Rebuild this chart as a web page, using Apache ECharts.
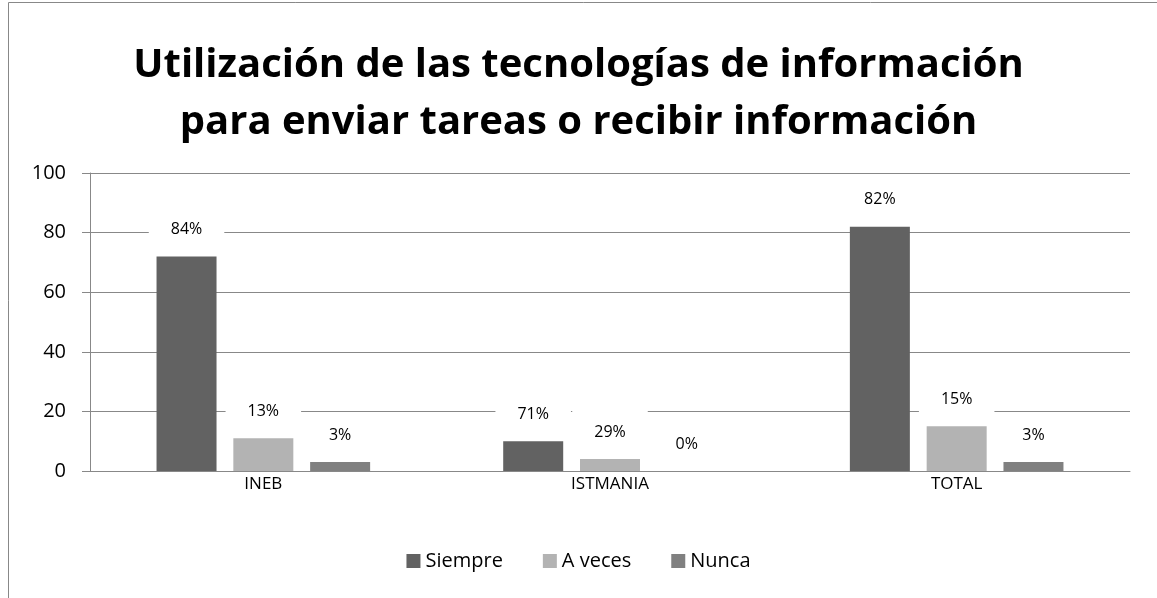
<!DOCTYPE html>
<html>
<head>
<meta charset="utf-8">
<script src="https://cdn.jsdelivr.net/npm/echarts@6/dist/echarts.min.js"></script>
<style>
  html, body { margin: 0; padding: 0; background: #fff; }
  #main { width: 1157px; height: 598px; }
</style>
</head>
<body>
<div id="main"></div>
<script>
// datos
var categorias = ['INEB', 'ISTMANIA', 'TOTAL'];
var siempre = [72, 10, 82];
var aVeces = [11, 4, 15];
var nunca = [3, 0, 3];
// etiquetas de porcentaje mostradas sobre cada barra
var siempreEtiq = ['84%', '71%', '82%'];
var aVecesEtiq = ['13%', '29%', '15%'];
var nuncaEtiq = ['3%', '0%', '3%'];
var ticksY = [0, 20, 40, 60, 80, 100];

var fuente = '"Open Sans", "Noto Sans", sans-serif';

function serie(nombre, datos, etiquetas, color) {
    return {
        name: nombre,
        type: 'bar',
        data: datos,
        barWidth: 60,
        barGap: '28%',
        itemStyle: { color: color },
        label: {
            show: true,
            position: 'top',
            distance: 6,
            formatter: function (p) { return etiquetas[p.dataIndex]; },
            color: '#000',
            fontSize: 16,
            fontFamily: fuente,
            backgroundColor: '#fff',
            padding: [13, 22]
        }
    };
}

var myChart = echarts.init(document.getElementById('main'));
myChart.setOption({
    animation: false,
    title: {
        text: 'Utilización de las tecnologías de información\npara enviar tareas o recibir información',
        left: 'center',
        top: 32,
        textStyle: {
            fontFamily: fuente,
            fontSize: 40,
            fontWeight: 'bold',
            color: '#000',
            lineHeight: 57
        }
    },
    graphic: [{
        type: 'rect',
        shape: { x: 8.5, y: 2.5, width: 1200, height: 700 },
        style: { fill: 'none', stroke: '#888', lineWidth: 1 },
        silent: true
    }],
    legend: {
        bottom: 22,
        left: 'center',
        itemWidth: 14,
        itemHeight: 14,
        itemGap: 40,
        itemTextGap: 8,
        icon: 'rect',
        textStyle: { fontFamily: fuente, fontSize: 20, color: '#000' },
        data: ['Siempre', 'A veces', 'Nunca']
    },
    grid: { left: 90, right: 27, top: 173, bottom: 127 },
    xAxis: {
        type: 'category',
        data: categorias,
        axisLine: { lineStyle: { color: '#888' } },
        axisTick: { show: false },
        axisLabel: { fontFamily: fuente, fontSize: 17, color: '#000', margin: 5 }
    },
    yAxis: {
        type: 'value',
        min: 0,
        max: 100,
        interval: 20,
        axisLine: { show: true, lineStyle: { color: '#888' } },
        axisTick: { show: true, length: 8, lineStyle: { color: '#888' } },
        splitLine: { lineStyle: { color: '#888' } },
        axisLabel: {
            fontFamily: fuente, fontSize: 20, color: '#000', margin: 24,
            formatter: function (v) { return ticksY.indexOf(v) >= 0 ? String(v) : ''; }
        }
    },
    series: [
        serie('Siempre', siempre, siempreEtiq, '#626262'),
        serie('A veces', aVeces, aVecesEtiq, '#b3b3b3'),
        serie('Nunca', nunca, nuncaEtiq, '#808080')
    ]
});
</script>
</body>
</html>
